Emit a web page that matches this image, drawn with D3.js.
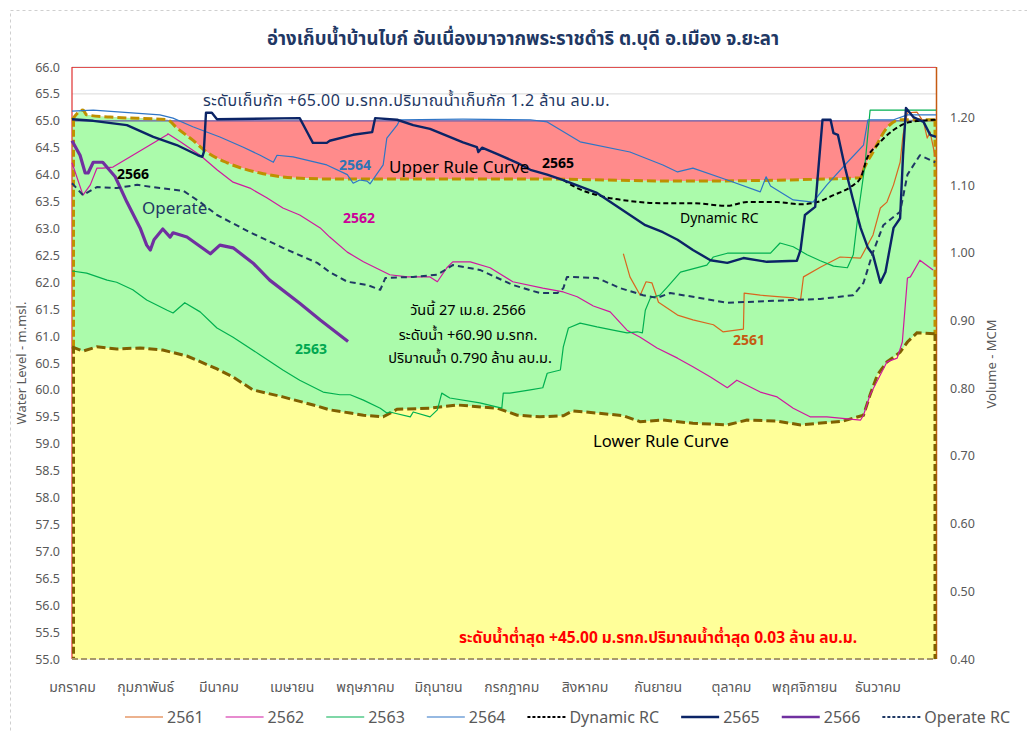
<!DOCTYPE html>
<html>
<head>
<meta charset="utf-8">
<script src="https://cdn.jsdelivr.net/npm/d3@7"></script>
<style>
  html, body { margin: 0; padding: 0; background: #ffffff; }
  svg text { font-family: "Noto Sans", "Noto Sans Thai", "Open Sans", sans-serif; }
</style>
</head>
<body>
<svg id="chart" width="1027" height="731"></svg>
<script>
// Month labels along the x axis (position = months since 1 Jan)
const months = ["มกราคม","กุมภาพันธ์","มีนาคม","เมษายน","พฤษภาคม","มิถุนายน","กรกฎาคม","สิงหาคม","กันยายน","ตุลาคม","พฤศจิกายน","ธันวาคม"];
const levelTicks = d3.range(55, 66.001, 0.5);
const volumeTicks = [0.40, 0.50, 0.60, 0.70, 0.80, 0.90, 1.00, 1.10, 1.20];

// Storage / minimum levels (m. MSL)
const storageLevel = 65.0;
const bottomLevel = 55.0;
const todayLevel = 60.90;

// Rule curves: [month position, water level m. MSL]
const upperRC = [[0,65.02],[0.15,65.20],[0.20,65.11],[0.52,65.07],[1.30,65.02],[1.43,64.87],[1.65,64.64],[1.84,64.42],[2.12,64.22],[2.57,64.03],[3.02,63.94],[3.52,63.92],[6.26,63.92],[8.31,63.88],[10.77,63.94],[10.81,64.09],[10.94,64.42],[11.13,64.87],[11.31,65.02],[11.80,65.02]];
const lowerRC = [[0,60.80],[0.15,60.72],[0.34,60.80],[0.61,60.76],[0.93,60.78],[1.24,60.74],[1.57,60.63],[1.98,60.39],[2.20,60.24],[2.47,60.00],[2.88,59.87],[3.35,59.70],[3.52,59.63],[3.80,59.57],[3.98,59.53],[4.25,59.50],[4.44,59.64],[4.89,59.66],[5.26,59.72],[5.81,59.66],[6.08,59.53],[6.39,59.50],[6.71,59.52],[6.84,59.61],[7.17,59.57],[7.53,59.52],[7.76,59.41],[8.07,59.44],[8.48,59.38],[8.95,59.35],[9.22,59.44],[9.63,59.42],[9.95,59.35],[10.53,59.42],[10.81,59.53],[10.90,59.91],[11.00,60.28],[11.13,60.52],[11.31,60.70],[11.41,60.89],[11.54,61.06],[11.80,61.04]];
const dynamicRC = [[6.71,63.90],[6.90,63.75],[7.17,63.62],[7.62,63.51],[8.07,63.47],[8.48,63.47],[8.95,63.42],[9.22,63.49],[9.63,63.49],[9.95,63.45],[10.18,63.49],[10.40,63.62],[10.63,63.77],[10.77,63.94],[10.86,64.31],[11.00,64.55],[11.22,64.83],[11.45,64.98],[11.80,65.02]];
const operateRC = [[0,63.84],[0.15,63.62],[0.34,63.77],[0.61,63.75],[0.89,63.81],[1.20,63.75],[1.52,63.70],[1.75,63.49],[1.98,63.25],[2.43,62.93],[2.88,62.64],[3.35,62.36],[3.52,62.19],[3.76,62.01],[4.03,61.95],[4.21,61.86],[4.28,62.08],[4.66,62.10],[4.99,62.14],[5.20,62.32],[5.57,62.23],[6.02,61.95],[6.39,61.80],[6.63,61.80],[6.71,61.89],[6.76,62.10],[7.17,62.08],[7.49,61.89],[7.80,61.76],[7.99,61.71],[8.17,61.80],[8.48,61.73],[8.95,61.62],[9.85,61.67],[10.22,61.69],[10.67,61.76],[10.81,61.99],[10.94,62.56],[11.08,63.06],[11.31,63.31],[11.41,64.00],[11.58,64.36],[11.79,64.23]];

// Yearly water levels: [month position, water level m. MSL]
const y2561 = [[7.53,62.53],[7.62,62.10],[7.76,61.76],[7.84,62.01],[7.92,61.99],[8.01,61.63],[8.27,61.39],[8.48,61.30],[8.76,61.21],[8.89,61.08],[9.17,61.13],[9.18,61.80],[9.40,61.76],[9.85,61.71],[9.95,61.67],[9.99,62.10],[10.22,62.28],[10.49,62.47],[10.77,62.45],[10.94,62.88],[11.04,63.38],[11.13,63.49],[11.22,63.81],[11.31,64.23],[11.35,64.74],[11.41,65.15],[11.54,65.16],[11.63,64.98],[11.68,64.68],[11.72,64.79],[11.79,64.33]];
const y2562 = [[0,64.22],[0.15,63.62],[0.25,63.81],[0.34,64.12],[0.42,64.12],[0.56,64.14],[0.83,64.36],[1.30,64.74],[1.31,64.76],[1.48,64.61],[1.75,64.36],[1.98,64.09],[2.20,63.86],[2.43,63.75],[2.66,63.57],[2.88,63.38],[3.11,63.25],[3.39,63.01],[3.52,62.84],[3.76,62.56],[3.98,62.38],[4.34,62.14],[4.58,62.10],[4.89,62.10],[4.99,62.01],[5.12,62.27],[5.20,62.38],[5.44,62.38],[5.71,62.27],[6.02,62.01],[6.43,61.89],[6.71,61.82],[6.90,61.73],[7.12,61.56],[7.35,61.45],[7.58,61.11],[7.76,60.98],[7.99,60.78],[8.27,60.59],[8.48,60.43],[8.72,60.24],[8.95,60.04],[9.08,60.18],[9.40,59.96],[9.63,59.87],[9.85,59.66],[10.08,59.50],[10.31,59.50],[10.77,59.44],[10.81,59.53],[10.90,59.91],[11.13,60.52],[11.27,60.59],[11.34,60.89],[11.41,62.08],[11.45,62.10],[11.58,62.41],[11.76,62.23]];
const y2563 = [[0,62.21],[0.20,62.17],[0.48,62.04],[0.61,62.00],[0.83,61.86],[1.02,61.67],[1.30,61.48],[1.38,61.43],[1.54,61.62],[1.75,61.45],[1.98,61.15],[2.20,60.98],[2.57,60.65],[2.88,60.37],[3.11,60.18],[3.43,59.96],[3.66,59.91],[3.80,59.91],[3.98,59.81],[4.21,59.66],[4.30,59.57],[4.34,59.59],[4.62,59.50],[4.66,59.59],[4.89,59.50],[4.99,59.63],[5.05,59.94],[5.16,59.85],[5.57,59.76],[5.87,59.66],[5.89,59.94],[5.98,59.94],[6.26,60.00],[6.43,60.04],[6.49,60.31],[6.67,60.37],[6.71,60.80],[6.78,61.15],[6.94,61.24],[7.17,61.17],[7.39,61.11],[7.58,61.06],[7.72,61.08],[7.79,61.06],[7.83,61.48],[7.90,61.71],[8.03,61.76],[8.13,61.91],[8.31,62.19],[8.67,62.32],[8.76,62.47],[8.95,62.54],[9.54,62.54],[9.67,62.73],[9.85,62.66],[10.04,62.51],[10.22,62.40],[10.40,62.30],[10.59,62.27],[10.67,62.51],[10.74,63.31],[10.83,64.18],[10.90,65.20],[11.80,65.20]];
const y2564 = [[0,65.18],[0.29,65.20],[1.20,65.11],[1.38,65.05],[1.65,64.89],[2.02,64.70],[2.34,64.51],[2.57,64.36],[2.75,64.23],[2.80,64.36],[3.02,64.33],[3.48,64.18],[3.76,64.00],[3.84,63.84],[3.93,63.90],[4.03,63.88],[4.07,63.83],[4.25,64.18],[4.30,64.68],[4.44,64.92],[4.48,65.02],[5.34,65.03],[6.26,65.02],[6.49,64.98],[6.94,64.61],[7.62,64.42],[8.07,64.18],[8.27,64.05],[8.48,64.12],[8.95,63.90],[9.40,63.68],[9.48,63.96],[9.54,63.79],[9.85,63.53],[10.12,63.49],[10.31,63.81],[10.59,64.23],[10.81,64.55],[10.87,65.02],[11.22,65.02],[11.41,65.11],[11.80,65.11]];
const y2565 = [[0,65.03],[0.29,65.00],[0.75,64.92],[1.11,64.70],[1.43,64.55],[1.72,64.36],[1.78,64.33],[1.80,64.42],[1.83,65.15],[1.91,65.15],[1.98,65.03],[3.11,65.05],[3.22,64.77],[3.29,64.59],[3.48,64.59],[3.52,64.63],[3.84,64.74],[4.10,64.79],[4.14,65.05],[4.44,65.02],[4.66,64.92],[4.89,64.85],[5.34,64.60],[5.53,64.51],[5.55,64.42],[5.60,64.50],[5.81,64.38],[6.08,64.22],[6.26,64.09],[6.49,64.00],[6.71,63.90],[7.17,63.66],[7.62,63.25],[7.83,63.06],[8.07,62.93],[8.27,62.79],[8.48,62.60],[8.72,62.41],[8.95,62.36],[9.17,62.45],[9.49,62.38],[9.90,62.40],[9.95,62.60],[10.01,63.25],[10.15,63.40],[10.25,65.02],[10.36,65.02],[10.40,64.77],[10.46,64.74],[10.56,64.12],[10.66,63.57],[10.77,63.01],[10.87,62.64],[10.94,62.51],[11.04,61.99],[11.11,62.19],[11.22,63.01],[11.31,63.19],[11.35,64.36],[11.39,65.24],[11.49,65.07],[11.63,64.98],[11.72,64.74],[11.80,64.70]];
const y2566 = [[0,64.63],[0.11,64.36],[0.18,64.03],[0.22,64.03],[0.29,64.23],[0.42,64.23],[0.49,64.12],[0.59,63.96],[0.75,63.49],[0.93,63.01],[1.02,62.69],[1.07,62.60],[1.12,62.79],[1.24,62.99],[1.34,62.84],[1.38,62.92],[1.57,62.84],[1.89,62.53],[2.02,62.69],[2.20,62.64],[2.47,62.36],[2.70,62.04],[3.11,61.61],[3.39,61.30],[3.77,todayLevel]];

const svg = d3.select("#chart");
const plot = { left: 72, right: 936, top: 67, bottom: 659 };

const x = d3.scaleLinear().domain([0, 11.8]).range([plot.left, plot.right]);
const y = d3.scaleLinear().domain([55, 66]).range([plot.bottom, plot.top]);
const yR = d3.scaleLinear().domain([0.40, 1.2746]).range([plot.bottom, plot.top]);

// outer dashed chart frame
svg.append("rect").attr("x", 10.5).attr("y", 10.5).attr("width", 1040).attr("height", 760)
  .attr("fill", "none").attr("stroke", "#cfcfcf").attr("stroke-dasharray", "3,3");

// title
svg.append("text").attr("x", 523).attr("y", 45).attr("text-anchor", "middle")
  .attr("font-size", 18.6).attr("font-weight", "bold").attr("fill", "#1f3864")
  .text("อ่างเก็บน้ำบ้านไบก์ อันเนื่องมาจากพระราชดำริ ต.บุดี อ.เมือง จ.ยะลา");

// gridlines (only the one above the fills stays visible)
svg.append("g").selectAll("line").data(levelTicks).join("line")
  .attr("x1", plot.left).attr("x2", plot.right)
  .attr("y1", d => y(d)).attr("y2", d => y(d))
  .attr("stroke", "#d9d9d9").attr("stroke-width", 1);

const px = d => x(d[0]), py = d => y(d[1]);

// zones
svg.append("path").datum(upperRC)
  .attr("d", d3.area().x(px).y0(y(storageLevel)).y1(py).curve(d3.curveMonotoneX))
  .attr("fill", "#ff8b8b");
svg.append("path").datum(upperRC)
  .attr("d", d3.area().x(px).y0(y(bottomLevel)).y1(py).curve(d3.curveMonotoneX))
  .attr("fill", "#abfbab");
svg.append("path").datum(lowerRC)
  .attr("d", d3.area().x(px).y0(y(bottomLevel)).y1(py))
  .attr("fill", "#ffff99");

// storage level line
svg.append("line").attr("x1", plot.left).attr("x2", plot.right)
  .attr("y1", y(storageLevel)).attr("y2", y(storageLevel))
  .attr("stroke", "#6a5aa8").attr("stroke-width", 1.3);

// plot frame
svg.append("line").attr("x1", plot.left).attr("x2", plot.right).attr("y1", plot.top + 0.5).attr("y2", plot.top + 0.5)
  .attr("stroke", "#e05050").attr("stroke-width", 1.2);
svg.append("line").attr("x1", plot.left).attr("x2", plot.left).attr("y1", plot.top).attr("y2", plot.bottom)
  .attr("stroke", "#e03030").attr("stroke-width", 1.2);
svg.append("line").attr("x1", plot.right + 0.5).attr("x2", plot.right + 0.5).attr("y1", plot.top).attr("y2", plot.bottom)
  .attr("stroke", "#c55a11").attr("stroke-width", 1.5);

// rule curve outlines
const edge = (x0, l0, l1, color) => svg.append("line")
  .attr("x1", x0).attr("x2", x0).attr("y1", y(l0)).attr("y2", y(l1))
  .attr("stroke", color).attr("stroke-width", 3).attr("stroke-dasharray", "7,3");
edge(plot.left + 1.5, upperRC[0][1], lowerRC[0][1], "#bf9000");
edge(plot.left + 1.5, lowerRC[0][1], bottomLevel, "#7f6000");
edge(plot.right - 1, upperRC[upperRC.length - 1][1], lowerRC[lowerRC.length - 1][1], "#bf9000");
edge(plot.right - 1, lowerRC[lowerRC.length - 1][1], bottomLevel, "#7f6000");
svg.append("line").attr("x1", plot.left).attr("x2", plot.right).attr("y1", plot.bottom).attr("y2", plot.bottom)
  .attr("stroke", "#a8996a").attr("stroke-width", 2).attr("stroke-dasharray", "6,3");

svg.append("path").datum(upperRC)
  .attr("d", d3.line().x(px).y(py).curve(d3.curveMonotoneX))
  .attr("fill", "none").attr("stroke", "#bf9000").attr("stroke-width", 3).attr("stroke-dasharray", "9,4");
svg.append("path").datum(lowerRC)
  .attr("d", d3.line().x(px).y(py))
  .attr("fill", "none").attr("stroke", "#7f6000").attr("stroke-width", 3).attr("stroke-dasharray", "9,4");

// series
const series = [
  { name: "2561", data: y2561, color: "#d9661f", width: 1.2, dash: null },
  { name: "2562", data: y2562, color: "#d0189f", width: 1.2, dash: null },
  { name: "2563", data: y2563, color: "#00b050", width: 1.2, dash: null },
  { name: "2564", data: y2564, color: "#2e75c6", width: 1.2, dash: null },
  { name: "Dynamic RC", data: dynamicRC, color: "#000000", width: 2, dash: "5,3", curve: true },
  { name: "2565", data: y2565, color: "#0b2466", width: 2.4, dash: null },
  { name: "2566", data: y2566, color: "#7030a0", width: 3.2, dash: null },
  { name: "Operate RC", data: operateRC, color: "#1f3864", width: 2, dash: "6,4" }
];
series.forEach(s => {
  const gen = d3.line().x(px).y(py).curve(s.curve ? d3.curveMonotoneX : d3.curveLinear);
  svg.append("path").datum(s.data).attr("d", gen)
    .attr("fill", "none").attr("stroke", s.color).attr("stroke-width", s.width)
    .attr("stroke-linejoin", "round")
    .attr("stroke-dasharray", s.dash);
});

// axes
const axisText = g => g.selectAll("text").attr("fill", "#595959")
  .style("font-family", '"Noto Sans", "Noto Sans Thai", sans-serif');
const gl = svg.append("g").attr("transform", `translate(${plot.left},0)`)
  .call(d3.axisLeft(y).tickValues(levelTicks).tickFormat(d3.format(".1f")).tickSize(0).tickPadding(12));
gl.select(".domain").remove();
gl.call(axisText).selectAll("text").attr("font-size", 12.5);

const gr = svg.append("g").attr("transform", `translate(${plot.right},0)`)
  .call(d3.axisRight(yR).tickValues(volumeTicks).tickFormat(d3.format(".2f")).tickSize(0).tickPadding(14));
gr.select(".domain").remove();
gr.call(axisText).selectAll("text").attr("font-size", 12.5);

const gx = svg.append("g").attr("transform", `translate(0,${plot.bottom})`)
  .call(d3.axisBottom(x).tickValues(d3.range(0, 12)).tickFormat(i => months[i]).tickSize(0).tickPadding(23));
gx.select(".domain").remove();
gx.call(axisText).selectAll("text").attr("font-size", 14);

svg.append("text").attr("transform", "translate(26,363) rotate(-90)").attr("text-anchor", "middle")
  .attr("font-size", 13).attr("fill", "#595959").text("Water Level - m.msl.");
svg.append("text").attr("transform", "translate(996,364) rotate(-90)").attr("text-anchor", "middle")
  .attr("font-size", 13).attr("fill", "#595959").text("Volume - MCM");

// in-plot labels
const label = (tx, ty, text, opts = {}) => svg.append("text")
  .attr("x", tx).attr("y", ty).attr("text-anchor", opts.anchor || "start")
  .attr("font-size", opts.size || 14).attr("font-weight", opts.weight || "normal")
  .attr("letter-spacing", opts.spacing || null)
  .attr("fill", opts.color || "#000").text(text);

label(203, 106, "ระดับเก็บกัก  +65.00 ม.รทก.ปริมาณน้ำเก็บกัก  1.2 ล้าน ลบ.ม.", { size: 16, color: "#1f3864", spacing: 0.45 });
label(117, 179, "2566", { size: 14, weight: "bold" });
label(142, 214, "Operate", { size: 17, color: "#1f3864" });
label(339, 170, "2564", { size: 14, weight: "bold", color: "#2e75b6" });
label(389, 173, "Upper Rule Curve", { size: 17 });
label(542, 168, "2565", { size: 14, weight: "bold" });
label(343, 223, "2562", { size: 14, weight: "bold", color: "#cc0099" });
label(680, 223, "Dynamic  RC", { size: 14 });
label(295, 354, "2563", { size: 14, weight: "bold", color: "#00a850" });
label(733, 345, "2561", { size: 14, weight: "bold", color: "#c55a11" });
label(468, 315, "วันนี้ 27 เม.ย. 2566", { size: 14.5, anchor: "middle" });
label(468, 340, "ระดับน้ำ +" + todayLevel.toFixed(2) + " ม.รทก.", { size: 14.5, anchor: "middle" });
label(470, 363, "ปริมาณน้ำ 0.790 ล้าน ลบ.ม.", { size: 14.5, anchor: "middle" });
label(593, 447, "Lower Rule Curve", { size: 16.6 });
label(459, 643, "ระดับน้ำต่ำสุด  +45.00 ม.รทก.ปริมาณน้ำต่ำสุด  0.03 ล้าน ลบ.ม.", { size: 15.5, weight: "bold", color: "#ff0000" });

// legend
const lg = svg.append("g");
let lx = 125;
series.forEach(s => {
  lg.append("line").attr("x1", lx).attr("x2", lx + 38).attr("y1", 717).attr("y2", 717)
    .attr("stroke", s.color).attr("stroke-width", Math.min(s.width, 2.5))
    .attr("stroke-dasharray", s.dash ? "3,2" : null);
  const t = lg.append("text").attr("x", lx + 42).attr("y", 723)
    .attr("font-size", 16).attr("fill", "#595959").text(s.name);
  lx += 42 + t.node().getComputedTextLength() + 22;
});
</script>
</body>
</html>
